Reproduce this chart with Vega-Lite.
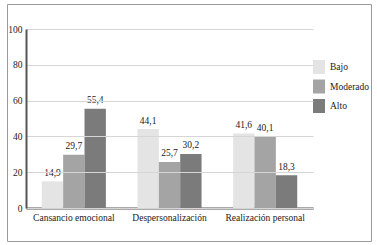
{
  "$schema": "https://vega.github.io/schema/vega-lite/v6.json",
  "width": 364,
  "height": 237,
  "padding": {"left": 7, "top": 4, "right": 6, "bottom": 4},
  "autosize": {"type": "none"},
  "config": {
    "locale": {"number": {"decimal": ",", "thousands": ".", "grouping": [3], "currency": ["", " €"]}},
    "font": "Liberation Serif",
    "view": {"stroke": "#9a9a9a", "strokeWidth": 1},
    "axis": {"labelFont": "Liberation Serif", "labelColor": "#1a1a1a", "labelFontSize": 9.5},
    "legend": {"labelFont": "Liberation Serif"},
    "text": {"font": "Liberation Serif"}
  },
  "data": {
    "values": [
      {"dim": "Cansancio emocional", "nivel": "Bajo", "v": 14.9},
      {"dim": "Cansancio emocional", "nivel": "Moderado", "v": 29.7},
      {"dim": "Cansancio emocional", "nivel": "Alto", "v": 55.4},
      {"dim": "Despersonalización", "nivel": "Bajo", "v": 44.1},
      {"dim": "Despersonalización", "nivel": "Moderado", "v": 25.7},
      {"dim": "Despersonalización", "nivel": "Alto", "v": 30.2},
      {"dim": "Realización personal", "nivel": "Bajo", "v": 41.6},
      {"dim": "Realización personal", "nivel": "Moderado", "v": 40.1},
      {"dim": "Realización personal", "nivel": "Alto", "v": 18.3}
    ]
  },
  "encoding": {
    "x": {
      "field": "dim", "type": "nominal",
      "sort": ["Cansancio emocional", "Despersonalización", "Realización personal"],
      "scale": {"range": [19, 306], "paddingInner": 0.33, "paddingOuter": 0.165},
      "axis": {"title": null, "labelAngle": 0, "ticks": false, "offset": -33, "labelPadding": 4, "domainColor": "#555555", "domainWidth": 2, "grid": false}
    },
    "xOffset": {
      "field": "nivel", "type": "nominal",
      "sort": ["Bajo", "Moderado", "Alto"],
      "scale": {"paddingInner": 0, "paddingOuter": 0}
    },
    "y": {
      "field": "v", "type": "quantitative",
      "scale": {"domain": [0, 100], "range": [204, 25], "nice": false, "zero": true},
      "axis": {"title": null, "values": [20, 40, 60, 80, 100, 0], "ticks": false, "offset": -19, "labelPadding": 4, "domainColor": "#555555", "domainWidth": 2, "grid": true, "gridColor": "#d6d6d6", "gridWidth": 1, "zindex": 1}
    }
  },
  "layer": [
    {
      "mark": {"type": "bar"},
      "encoding": {
        "color": {
          "field": "nivel", "type": "nominal",
          "sort": ["Bajo", "Moderado", "Alto"],
          "scale": {"domain": ["Bajo", "Moderado", "Alto"], "range": ["#e4e4e4", "#a4a4a4", "#7b7b7b"]},
          "legend": {
            "title": null, "orient": "none", "legendX": 305, "legendY": 56, "padding": 0,
            "symbolType": "M-0.86,-1H0.86V1H-0.86Z", "symbolSize": 196, "symbolOpacity": 1, "symbolStrokeWidth": 0,
            "labelFontSize": 9.5, "labelColor": "#1a1a1a", "labelOffset": 4, "rowPadding": 5.5
          }
        }
      }
    },
    {
      "mark": {"type": "text", "dy": -3.5, "baseline": "bottom", "fontSize": 9.5, "color": "#1a1a1a"},
      "encoding": {"text": {"field": "v", "type": "quantitative", "format": ".1f"}}
    }
  ]
}
